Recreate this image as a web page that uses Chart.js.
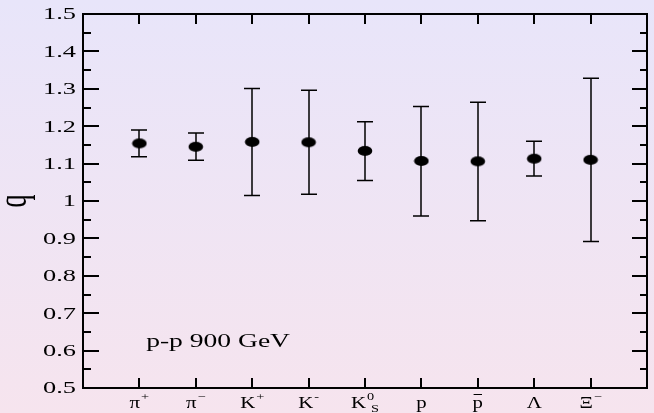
<!DOCTYPE html>
<html>
<head>
<meta charset="utf-8">
<script src="https://cdn.jsdelivr.net/npm/chart.js@4"></script>
<style>
html,body{margin:0;padding:0;background:#eee8f6;}
#wrap{width:654px;height:413px;position:relative;}
</style>
</head>
<body>
<div id="wrap"><canvas id="c" width="654" height="413"></canvas></div>
<script>
// ---- data ----
const particles = [
  {main:'π', sup:'+'},
  {main:'π', sup:'−'},
  {main:'K', sup:'+'},
  {main:'K', sup:'-'},
  {main:'K', sup:'0', sub:'S'},
  {main:'p'},
  {main:'p', bar:true},
  {main:'Λ'},
  {main:'Ξ', sup:'−'}
];
const categoryPos = [1, 2, 3, 4, 5, 6, 7, 8, 9];
const qValues  = [1.154, 1.145, 1.158, 1.157, 1.134, 1.107, 1.106, 1.113, 1.110];
const qLower   = [1.118, 1.109, 1.015, 1.018, 1.055, 0.960, 0.947, 1.067, 0.892];
const qUpper   = [1.190, 1.182, 1.301, 1.296, 1.212, 1.253, 1.264, 1.160, 1.328];
const yTicks   = [0.5, 0.6, 0.7, 0.8, 0.9, 1.0, 1.1, 1.2, 1.3, 1.4, 1.5];
const yTitle   = 'q';
const note     = 'p-p 900 GeV';

const SERIF = '"Liberation Serif", "DejaVu Serif", serif';

function stretchText(ctx, text, x, y, size, sx, align) {
  ctx.save();
  ctx.translate(x, y);
  ctx.scale(sx, 1);
  ctx.font = size + 'px ' + SERIF;
  ctx.textAlign = align || 'left';
  ctx.fillText(text, 0, 0);
  ctx.restore();
}

// ellipse marker
const marker = document.createElement('canvas');
marker.width = 16; marker.height = 12;
(function(){
  const m = marker.getContext('2d');
  m.fillStyle = '#000';
  m.beginPath();
  m.ellipse(8, 6, 7.3, 5, 0, 0, Math.PI*2);
  m.fill();
})();

const bgPlugin = {
  id: 'bg',
  beforeDraw(chart) {
    const ctx = chart.ctx;
    const g = ctx.createLinearGradient(0, 0, 0, chart.height);
    g.addColorStop(0, '#e8e5fa');
    g.addColorStop(1, '#f6e4ee');
    ctx.save();
    ctx.fillStyle = g;
    ctx.fillRect(0, 0, chart.width, chart.height);
    ctx.restore();
  }
};

const errPlugin = {
  id: 'errs',
  beforeDatasetsDraw(chart) {
    const ctx = chart.ctx;
    const xs = chart.scales.x, ys = chart.scales.y;
    ctx.save();
    ctx.strokeStyle = '#000';
    ctx.lineWidth = 1.5;
    categoryPos.forEach((c, i) => {
      const x = Math.round(xs.getPixelForValue(c));
      const yl = ys.getPixelForValue(qLower[i]);
      const yu = ys.getPixelForValue(qUpper[i]);
      ctx.beginPath();
      ctx.moveTo(x, yl); ctx.lineTo(x, yu);
      ctx.moveTo(x - 8, yl); ctx.lineTo(x + 8, yl);
      ctx.moveTo(x - 8, yu); ctx.lineTo(x + 8, yu);
      ctx.stroke();
    });
    ctx.restore();
  }
};

const framePlugin = {
  id: 'frame',
  afterDraw(chart) {
    const ctx = chart.ctx;
    const a = chart.chartArea;
    const xs = chart.scales.x, ys = chart.scales.y;
    ctx.save();
    ctx.strokeStyle = '#000';
    ctx.fillStyle = '#000';
    ctx.lineWidth = 2;
    ctx.strokeRect(a.left, a.top, a.right - a.left, a.bottom - a.top);
    ctx.beginPath();
    for (let k = 0; k <= 20; k++) {
      const v = 0.5 + k * 0.05;
      const y = Math.round(ys.getPixelForValue(v));
      const major = k % 2 === 0;
      ctx.moveTo(a.left, y); ctx.lineTo(a.left + (major ? 16 : 8), y);
      ctx.moveTo(a.right, y); ctx.lineTo(a.right - (major ? 15 : 7), y);
    }
    categoryPos.forEach(c => {
      const x = Math.round(xs.getPixelForValue(c));
      ctx.moveTo(x, a.bottom); ctx.lineTo(x, a.bottom - 10);
      ctx.moveTo(x, a.top); ctx.lineTo(x, a.top + 10);
    });
    ctx.stroke();

    // y tick labels
    ctx.textBaseline = 'middle';
    yTicks.forEach(v => {
      const lbl = Math.abs(v - 1) < 1e-9 ? '1' : v.toFixed(1);
      stretchText(ctx, lbl, a.left - 7, ys.getPixelForValue(v) + 1, 17, 1.55, 'right');
    });

    // y title
    ctx.save();
    ctx.translate(16, (a.top + a.bottom) / 2);
    ctx.rotate(-Math.PI / 2);
    ctx.scale(1, 1.5);
    ctx.font = '26px ' + SERIF;
    ctx.textAlign = 'center';
    ctx.textBaseline = 'middle';
    ctx.fillText(yTitle, 0, 0);
    ctx.restore();

    // x labels
    ctx.textBaseline = 'alphabetic';
    const base = a.bottom + 20;
    const SX = 1.3;
    categoryPos.forEach((c, i) => {
      const p = particles[i];
      const x = xs.getPixelForValue(c);
      ctx.font = '16px ' + SERIF;
      const mw = ctx.measureText(p.main).width * SX;
      ctx.font = '11px ' + SERIF;
      const sw = Math.max(p.sup ? ctx.measureText(p.sup).width * SX + 1 : 0,
                          p.sub ? ctx.measureText(p.sub).width * SX + 5 : 0);
      const x0 = x - (mw + sw) / 2;
      stretchText(ctx, p.main, x0, base, 16, SX, 'left');
      if (p.bar) {
        ctx.lineWidth = 1;
        ctx.beginPath();
        ctx.moveTo(x0 + 1, base - 13.5); ctx.lineTo(x0 + mw - 1, base - 13.5);
        ctx.stroke();
      }
      if (p.sup) stretchText(ctx, p.sup, x0 + mw + 1, base - 8, 11, SX, 'left');
      if (p.sub) stretchText(ctx, p.sub, x0 + mw + 5, base + 4, 11, SX, 'left');
    });

    // note
    stretchText(ctx, note, xs.getPixelForValue(1.12), ys.getPixelForValue(0.61), 19, 1.45, 'left');
    ctx.restore();
  }
};

new Chart(document.getElementById('c'), {
  type: 'scatter',
  data: {
    datasets: [{
      data: categoryPos.map((c, i) => ({x: c, y: qValues[i]})),
      pointStyle: marker,
      pointRadius: 6,
      backgroundColor: '#000',
      borderColor: '#000'
    }]
  },
  options: {
    responsive: false,
    animation: false,
    devicePixelRatio: 1,
    layout: {padding: {top: 14, right: 1, left: 0, bottom: 0}},
    plugins: {legend: {display: false}, tooltip: {enabled: false}},
    scales: {
      x: {
        type: 'linear', min: 0, max: 10,
        grid: {display: false},
        border: {display: false},
        ticks: {display: false},
        afterFit(s) { s.height = 25; }
      },
      y: {
        type: 'linear', min: 0.5, max: 1.5,
        grid: {display: false},
        border: {display: false},
        ticks: {display: false, stepSize: 0.1},
        afterFit(s) { s.width = 83; }
      }
    }
  },
  plugins: [bgPlugin, errPlugin, framePlugin]
});
</script>
</body>
</html>
